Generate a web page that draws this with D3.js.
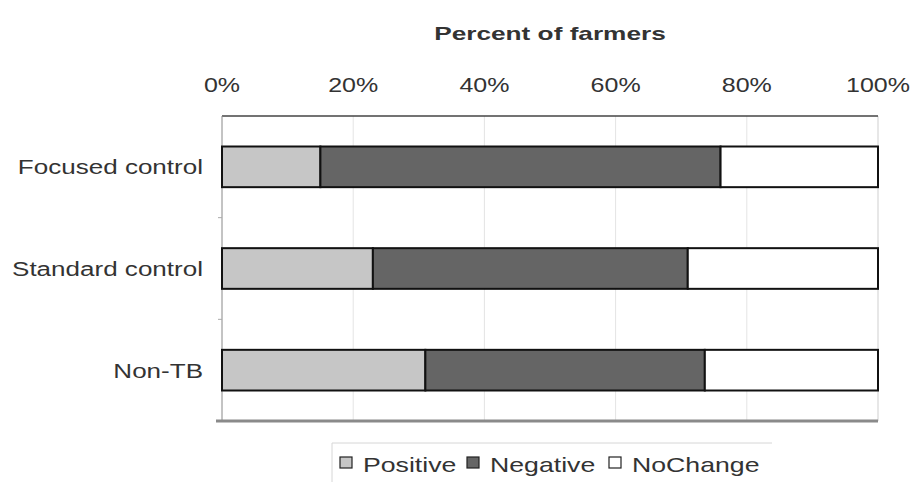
<!DOCTYPE html>
<html>
<head>
<meta charset="utf-8">
<script src="https://cdn.jsdelivr.net/npm/d3@7"></script>
<style>
  body { margin: 0; background: #fff; }
  svg text { font-family: "Liberation Sans", Arial, sans-serif; fill: #333; }
</style>
</head>
<body>
<div id="chart"></div>
<script>
const categories = ["Focused control", "Standard control", "Non-TB"];
const positive = [15, 23, 31];
const negative = [61, 48, 42.6];
const noChange = [24, 29, 26.4];
const seriesNames = ["Positive", "Negative", "NoChange"];
const tickValues = [0, 0.2, 0.4, 0.6, 0.8, 1];

const width = 912, height = 482;
const margin = { top: 116, right: 34, bottom: 61, left: 222 };

// scanned text looks horizontally stretched
const stretch = 1.24;

const colors = { Positive: "#c6c6c6", Negative: "#656565", NoChange: "#ffffff" };

const rows = categories.map((c, i) => ({
  category: c,
  Positive: positive[i] / 100,
  Negative: negative[i] / 100,
  NoChange: noChange[i] / 100,
}));

const stacked = d3.stack().keys(seriesNames)(rows);

const svg = d3.select("#chart").append("svg")
  .attr("width", width)
  .attr("height", height);

const x = d3.scaleLinear().domain([0, 1]).range([margin.left, width - margin.right]);
const y = d3.scaleBand().domain(categories)
  .range([margin.top, height - margin.bottom])
  .paddingInner(0.6).paddingOuter(0.3);

// place a text at (px, py) with a horizontal stretch
function placeText(sel, px, py, sx = stretch) {
  sel.attr("x", 0).attr("y", 0)
    .attr("transform", (d, i) => `translate(${px(d, i)},${py(d, i)}) scale(${sx},1)`);
}

// faint vertical grid
svg.append("g")
  .selectAll("line")
  .data(tickValues.slice(1, -1))
  .join("line")
  .attr("x1", d => x(d)).attr("x2", d => x(d))
  .attr("y1", margin.top).attr("y2", height - margin.bottom)
  .attr("stroke", "#e4e4e4").attr("stroke-width", 1);

// plot frame: right side light
svg.append("line")
  .attr("x1", x(1)).attr("x2", x(1))
  .attr("y1", margin.top).attr("y2", height - margin.bottom)
  .attr("stroke", "#cfcfcf");

// top tick labels
const fmt = d3.format(".0%");
svg.append("g")
  .selectAll("text")
  .data(tickValues)
  .join("text")
  .attr("text-anchor", "middle")
  .attr("dy", "0.35em")
  .attr("font-size", 20)
  .attr("fill", "#3a3a3a")
  .text(fmt)
  .call(placeText, d => x(d), () => 85, 1.25);

// top line
svg.append("line")
  .attr("x1", x(0)).attr("x2", x(1))
  .attr("y1", margin.top).attr("y2", margin.top)
  .attr("stroke", "#444").attr("stroke-width", 1.5);

// title
svg.append("text")
  .attr("text-anchor", "middle")
  .attr("font-size", 19)
  .attr("font-weight", "bold")
  .attr("fill", "#222")
  .text("Percent of farmers")
  .call(placeText, () => (x(0) + x(1)) / 2, () => 40, 1.38);

// left axis
svg.append("line")
  .attr("x1", x(0)).attr("x2", x(0))
  .attr("y1", margin.top).attr("y2", height - margin.bottom)
  .attr("stroke", "#888");
const bandStep = y.step();
svg.append("g")
  .selectAll("line")
  .data(categories.slice(1))
  .join("line")
  .attr("x1", x(0) - 4).attr("x2", x(0))
  .attr("y1", d => y(d) - bandStep * y.paddingInner() / 2)
  .attr("y2", d => y(d) - bandStep * y.paddingInner() / 2)
  .attr("stroke", "#aaa");

// category labels
svg.append("g")
  .selectAll("text")
  .data(categories)
  .join("text")
  .attr("dy", "0.35em")
  .attr("text-anchor", "end")
  .attr("font-size", 21)
  .text(d => d)
  .call(placeText, () => x(0) - 19, d => y(d) + y.bandwidth() / 2);

// bars
svg.append("g")
  .selectAll("g")
  .data(stacked)
  .join("g")
  .attr("fill", d => colors[d.key])
  .selectAll("rect")
  .data(d => d)
  .join("rect")
  .attr("x", d => x(d[0]))
  .attr("width", d => x(d[1]) - x(d[0]))
  .attr("y", d => y(d.data.category))
  .attr("height", y.bandwidth())
  .attr("stroke", "#111")
  .attr("stroke-width", 2);

// bottom axis line
svg.append("line")
  .attr("x1", x(0) - 6).attr("x2", x(1))
  .attr("y1", height - margin.bottom).attr("y2", height - margin.bottom)
  .attr("stroke", "#8a8a8a").attr("stroke-width", 3);

// legend
const legend = svg.append("g").attr("transform", "translate(332,443)");
legend.append("path")
  .attr("d", "M0,39V0H440")
  .attr("fill", "none")
  .attr("stroke", "#d6d6d6");
const legendX = [8, 135, 277];
const item = legend.selectAll("g.item")
  .data(seriesNames)
  .join("g")
  .attr("class", "item")
  .attr("transform", (d, i) => `translate(${legendX[i]},14)`);
item.append("rect")
  .attr("width", 12).attr("height", 11)
  .attr("fill", d => colors[d])
  .attr("stroke", "#222").attr("stroke-width", 1.2);
item.append("text")
  .attr("dy", "0.36em")
  .attr("font-size", 21)
  .attr("fill", "#333")
  .text(d => d)
  .call(placeText, () => 23, () => 7, 1.27);
</script>
</body>
</html>
